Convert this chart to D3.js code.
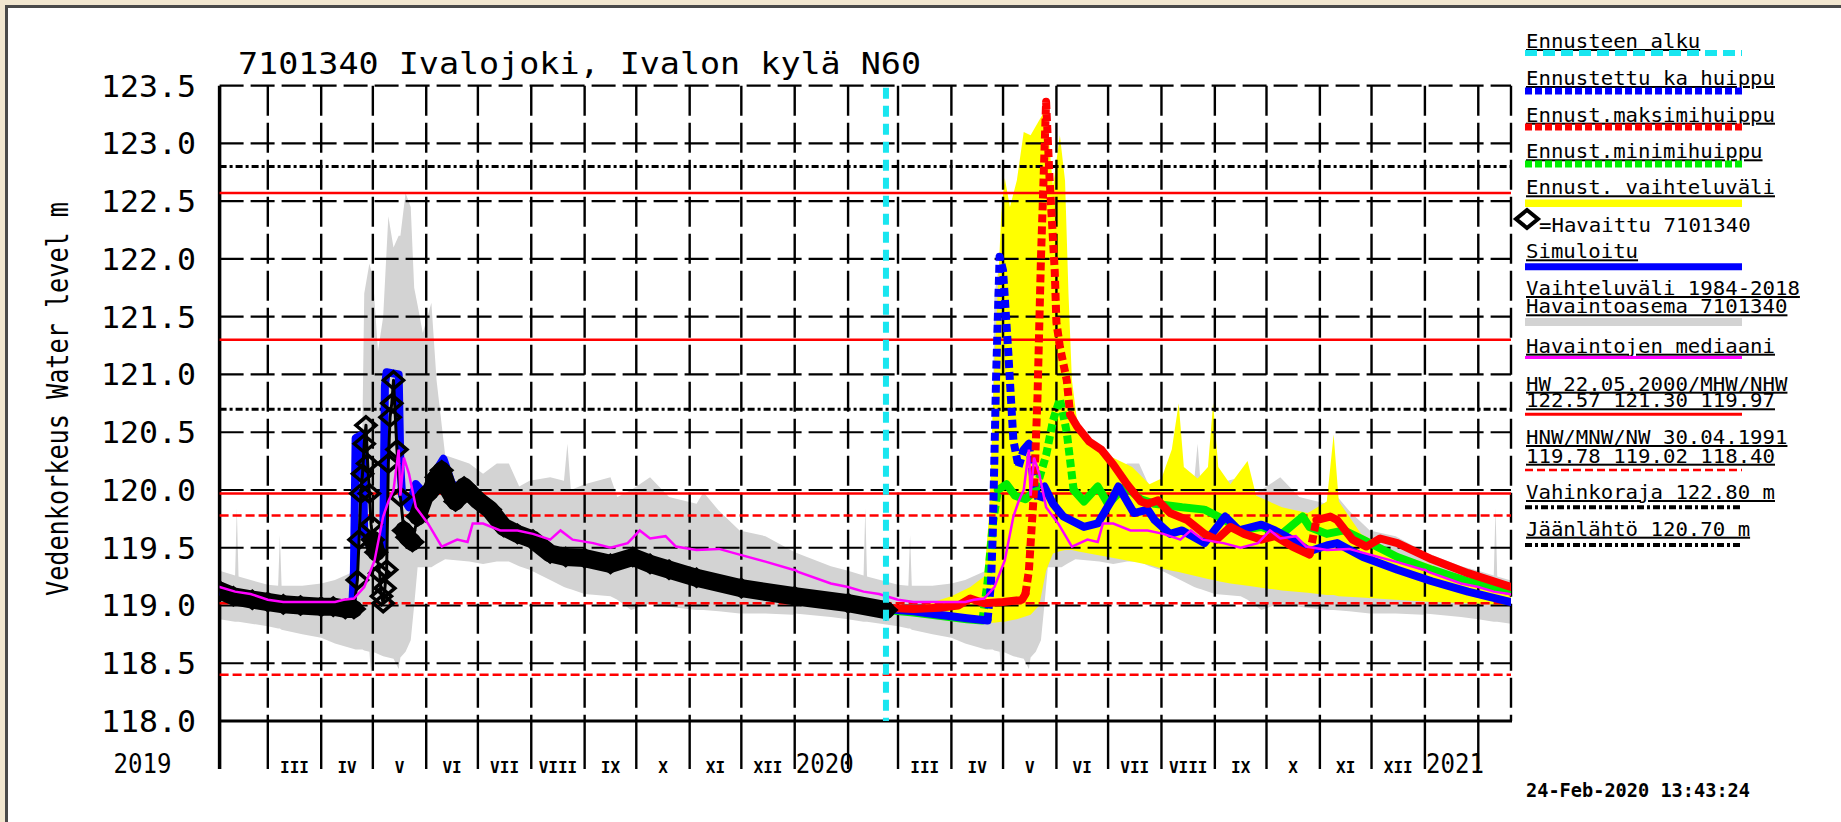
<!DOCTYPE html>
<html>
<head>
<meta charset="utf-8">
<script src="https://cdn.jsdelivr.net/npm/d3@7"></script>
<style>
body { margin: 0; background: #fff; }
svg { display: block; }
text { font-family: "DejaVu Sans Mono", monospace; fill: #000; }
</style>
</head>
<body>
<svg id="chart" width="1841" height="822"></svg>
<script>
"use strict";

// ---------- data ----------
var observed = [
	["2019-02-01",119.13],["2019-02-09",119.08],["2019-02-20",119.05],["2019-03-01",119.03],
	["2019-03-10",119.01],["2019-03-20",119.00],["2019-04-01",118.99],["2019-04-08",118.99],
	["2019-04-15",118.97],["2019-04-20",118.97],["2019-04-22",119.22],["2019-04-23",119.57],
	["2019-04-24",119.97],["2019-04-25",120.14],["2019-04-26",120.40],["2019-04-27",120.56],
	["2019-04-28",120.23],["2019-04-29",119.97],["2019-04-30",119.70],["2019-05-01",119.57],
	["2019-05-03",119.46],["2019-05-05",119.28],["2019-05-06",119.08],["2019-05-07",119.02],
	["2019-05-08",119.15],["2019-05-09",119.31],["2019-05-10",120.23],["2019-05-11",120.63],
	["2019-05-12",120.75],["2019-05-13",120.95],["2019-05-15",120.35],["2019-05-17",119.94],
	["2019-05-19",119.65],["2019-05-21",119.59],["2019-05-24",119.55],["2019-05-27",119.77],
	["2019-05-31",119.94],["2019-06-04",120.00],["2019-06-07",120.11],["2019-06-10",120.17],
	["2019-06-14",120.00],["2019-06-18",119.90],["2019-06-23",120.03],["2019-07-01",119.91],
	["2019-07-08",119.83],["2019-07-16",119.68],["2019-07-24",119.62],["2019-08-02",119.57],
	["2019-08-12",119.45],["2019-08-21",119.42],["2019-09-01",119.41],["2019-09-16",119.36],
	["2019-09-29",119.42],["2019-10-09",119.36],["2019-10-20",119.31],["2019-11-05",119.24],
	["2019-12-01",119.15],["2020-01-01",119.08],["2020-02-01",119.02],["2020-02-23",118.96]
];

var simulated = [
	["2019-02-01",119.12],["2019-03-01",119.03],["2019-04-01",118.99],["2019-04-19",118.98],
	["2019-04-20",119.30],["2019-04-21",120.45],["2019-04-25",120.48],["2019-04-26",119.60],
	["2019-04-30",119.50],["2019-05-07",119.50],["2019-05-08",120.90],["2019-05-09",121.02],
	["2019-05-16",121.00],["2019-05-17",120.20],["2019-05-18",119.95],["2019-05-22",119.85],
	["2019-05-26",120.05],["2019-06-01",119.95],["2019-06-06",120.15],["2019-06-11",120.27],
	["2019-06-16",120.05],["2019-06-25",120.00],["2019-07-01",119.93],["2019-07-16",119.72],
	["2019-08-01",119.60],["2019-08-15",119.47],["2019-09-01",119.43],["2019-09-16",119.39],
	["2019-09-29",119.45],["2019-10-15",119.36],["2019-11-01",119.27],["2019-12-01",119.16],
	["2020-01-01",119.09],["2020-02-01",119.02],["2020-02-23",118.97]
];

// Ennustettu ka huippu
var fcMean = [
	["2020-02-23",118.97],["2020-03-10",118.95],["2020-03-25",118.92],["2020-04-10",118.89],
	["2020-04-22",118.87],["2020-04-24",119.20],["2020-04-25",119.60],["2020-04-27",121.00],
	["2020-04-29",122.02],["2020-05-01",121.90],["2020-05-04",121.20],["2020-05-07",120.43],
	["2020-05-10",120.20],["2020-05-13",120.35],["2020-05-16",120.40],["2020-05-19",120.05],
	["2020-05-22",119.90],["2020-05-25",120.03],["2020-05-30",119.88],["2020-06-05",119.77],
	["2020-06-17",119.68],["2020-06-25",119.71],["2020-07-03",119.91],["2020-07-07",120.03],
	["2020-07-16",119.80],["2020-07-24",119.83],["2020-07-28",119.74],["2020-08-06",119.62],
	["2020-08-13",119.65],["2020-08-26",119.54],["2020-09-07",119.77],["2020-09-15",119.65],
	["2020-09-28",119.70],["2020-10-06",119.65],["2020-10-16",119.57],["2020-10-26",119.47],
	["2020-11-05",119.52],["2020-11-11",119.54],["2020-11-26",119.42],["2020-12-16",119.31],
	["2021-01-05",119.21],["2021-01-26",119.12],["2021-02-20",119.03]
];

// Ennust. maksimihuippu
var fcMax = [
	["2020-02-23",118.98],["2020-03-10",118.97],["2020-03-25",118.98],["2020-04-05",119.00],
	["2020-04-12",119.06],["2020-04-20",119.02],["2020-05-01",119.03],["2020-05-12",119.05],
	["2020-05-14",119.10],["2020-05-16",119.30],["2020-05-19",120.00],["2020-05-21",120.80],
	["2020-05-23",122.00],["2020-05-26",123.36],["2020-05-28",122.70],["2020-05-31",121.90],
	["2020-06-01",121.45],["2020-06-03",121.24],["2020-06-07",120.95],["2020-06-09",120.65],
	["2020-06-13",120.55],["2020-06-20",120.42],["2020-06-27",120.35],["2020-07-04",120.22],
	["2020-07-12",120.05],["2020-07-20",119.90],["2020-07-24",119.88],["2020-07-30",119.91],
	["2020-08-06",119.80],["2020-08-16",119.74],["2020-08-26",119.62],["2020-09-02",119.57],
	["2020-09-10",119.68],["2020-09-18",119.62],["2020-09-28",119.57],["2020-10-06",119.60],
	["2020-10-16",119.51],["2020-10-26",119.44],["2020-10-30",119.74],["2020-11-07",119.77],
	["2020-11-11",119.74],["2020-11-20",119.57],["2020-11-28",119.51],["2020-12-06",119.58],
	["2020-12-16",119.54],["2021-01-05",119.40],["2021-01-26",119.28],["2021-02-20",119.16]
];

// Ennust. minimihuippu
var fcMin = [
	["2020-02-23",118.96],["2020-03-10",118.94],["2020-03-25",118.91],["2020-04-10",118.88],
	["2020-04-19",118.87],["2020-04-22",119.20],["2020-04-25",119.70],["2020-04-28",120.00],
	["2020-05-03",120.05],["2020-05-08",119.95],["2020-05-14",119.92],["2020-05-20",120.00],
	["2020-05-26",120.30],["2020-05-30",120.60],["2020-06-03",120.79],["2020-06-07",120.50],
	["2020-06-11",120.00],["2020-06-17",119.90],["2020-06-25",120.03],["2020-07-01",119.88],
	["2020-07-11",120.03],["2020-07-20",119.92],["2020-07-28",119.88],["2020-08-13",119.85],
	["2020-08-26",119.83],["2020-09-07",119.74],["2020-09-15",119.65],["2020-09-28",119.68],
	["2020-10-10",119.62],["2020-10-22",119.77],["2020-10-26",119.68],["2020-11-05",119.62],
	["2020-11-15",119.65],["2020-11-26",119.57],["2020-12-16",119.42],["2021-01-05",119.31],
	["2021-01-26",119.21],["2021-02-20",119.12]
];

// Ennust. vaihteluväli: [date, low, high]
var fcRange = [
	["2020-02-23",118.96,118.98],["2020-03-15",118.92,119.00],["2020-04-01",118.88,119.08],
	["2020-04-12",118.86,119.16],["2020-04-20",118.85,119.25],["2020-04-23",118.85,119.80],
	["2020-04-26",118.85,121.10],["2020-04-30",118.86,122.40],["2020-05-02",118.86,122.70],
	["2020-05-05",118.87,122.45],["2020-05-09",118.88,122.68],["2020-05-13",118.90,123.10],
	["2020-05-17",118.92,123.07],["2020-05-22",119.00,123.20],["2020-05-26",119.30,123.30],
	["2020-05-30",119.45,122.63],["2020-06-03",119.47,123.07],["2020-06-06",119.48,122.68],
	["2020-06-08",119.48,121.70],["2020-06-10",119.48,120.95],["2020-06-13",119.47,120.60],
	["2020-06-20",119.45,120.45],["2020-07-01",119.42,120.30],["2020-07-15",119.38,120.20],
	["2020-07-25",119.35,120.05],["2020-08-01",119.32,120.10],["2020-08-07",119.30,120.35],
	["2020-08-11",119.29,120.75],["2020-08-14",119.28,120.20],["2020-08-22",119.25,120.10],
	["2020-08-28",119.23,120.20],["2020-08-31",119.22,120.75],["2020-09-03",119.21,120.20],
	["2020-09-10",119.19,120.05],["2020-09-20",119.17,120.25],["2020-09-25",119.16,119.95],
	["2020-10-10",119.13,119.85],["2020-10-25",119.11,119.80],["2020-11-05",119.09,119.90],
	["2020-11-09",119.09,120.48],["2020-11-12",119.08,119.90],["2020-11-25",119.07,119.62],
	["2020-12-15",119.05,119.45],["2021-01-05",119.03,119.35],["2021-01-26",119.02,119.22],
	["2021-02-20",119.00,119.10]
];

// Vaihteluväli 1984-2018 by day of year: [mm-dd, low, high]
var histRange = [
	["01-01",118.93,119.46],["01-22",118.90,119.34],["02-01",118.88,119.30],["02-10",118.86,119.26],
	["02-11",118.86,119.84],["02-12",118.86,119.25],["03-01",118.82,119.18],["03-07",118.80,119.17],
	["03-08",118.80,119.61],["03-09",118.79,119.17],["03-21",118.75,119.17],["04-01",118.72,119.19],
	["04-09",118.67,119.22],["04-21",118.62,119.30],["04-23",118.62,119.36],["04-25",118.62,120.60],
	["04-26",118.61,121.70],["04-29",118.60,121.96],["04-30",118.40,121.90],["05-01",118.60,121.85],
	["05-04",118.58,121.20],["05-07",118.56,121.50],["05-10",118.55,122.37],["05-13",118.54,122.10],
	["05-16",118.45,122.20],["05-17",118.55,122.20],["05-20",118.60,122.57],["05-23",118.70,122.45],
	["05-25",119.00,121.75],["05-27",119.33,121.60],["05-30",119.33,121.36],["06-04",119.33,121.62],
	["06-07",119.36,120.95],["06-12",119.40,120.30],["06-26",119.38,120.23],["07-04",119.36,120.14],
	["07-12",119.38,120.23],["07-19",119.38,120.23],["07-25",119.34,120.03],["07-31",119.31,120.08],
	["08-12",119.22,120.11],["08-20",119.16,120.08],["08-22",119.15,120.40],["08-24",119.14,120.00],
	["09-01",119.10,120.05],["09-16",119.08,120.11],["09-20",119.05,119.94],["09-28",118.96,120.00],
	["10-09",119.02,120.11],["10-20",118.99,119.94],["11-05",118.96,119.88],["11-09",118.96,119.98],
	["11-18",118.95,119.82],["11-30",118.93,119.65],["12-15",118.93,119.60],["12-31",118.92,119.47]
];

// Havaintojen mediaani by day of year
var median = [
	["01-01",119.31],["01-03",119.29],["01-22",119.19],["02-01",119.16],["02-10",119.12],
	["02-19",119.10],["03-01",119.05],["03-10",119.03],["03-30",119.03],["04-09",119.03],
	["04-14",119.05],["04-20",119.06],["04-26",119.16],["05-02",119.39],["05-07",119.77],
	["05-10",119.90],["05-13",120.00],["05-16",120.35],["05-17",119.95],["05-19",120.28],
	["05-22",120.14],["05-26",119.85],["06-02",119.71],["06-10",119.51],["06-19",119.57],
	["06-25",119.55],["06-28",119.71],["07-04",119.71],["07-14",119.65],["07-24",119.65],
	["08-02",119.62],["08-12",119.57],["08-18",119.65],["08-25",119.57],["09-06",119.54],
	["09-16",119.50],["09-26",119.54],["10-03",119.65],["10-09",119.58],["10-18",119.60],
	["10-24",119.51],["11-05",119.48],["11-18",119.49],["11-30",119.44],["12-15",119.38],
	["12-31",119.31]
];

var yTicks = [118.0, 118.5, 119.0, 119.5, 120.0, 120.5, 121.0, 121.5, 122.0, 122.5, 123.0, 123.5];
var monthLabels = ["", "", "III", "IV", "V", "VI", "VII", "VIII", "IX", "X", "XI", "XII"];
var yearLabels = ["2019", "2020", "2021"];
var refSolid = [122.57, 121.30, 119.97];   // HW / MHW / NHW
var refDashed = [119.78, 119.02, 118.40];  // HNW / MNW / NW
var refDashDot = [122.80, 120.70];         // Vahinkoraja, Jäänlähtö
var forecastStart = "2020-02-23";
var startDate = "2019-02-01", endDate = "2021-02-20";

var titleText = "7101340 Ivalojoki, Ivalon kylä N60";
var yTitle = "Vedenkorkeus Water level m";
var stamp = "24-Feb-2020 13:43:24";

// ---------- setup ----------
var parse = d3.timeParse("%Y-%m-%d");
var svg = d3.select("#chart");

var x = d3.scaleTime().domain([parse(startDate), parse(endDate)]).range([219.6, 1511]);
var y = d3.scaleLinear().domain([118, 123.5]).range([721, 85.7]);
var L = x.range()[0], R = x.range()[1], T = y.range()[1], B = y.range()[0];

var BLUE = "#0000ff", RED = "#ff0000", GREEN = "#00ee00", YELLOW = "#ffff00",
    GRAY = "#d3d3d3", MAGENTA = "#ff00ff", CYAN = "#19e6f0";

// window frame
svg.append("rect").attr("width", 1841).attr("height", 822).attr("fill", "#fff");
svg.append("rect").attr("width", 1841).attr("height", 5).attr("fill", "#f2e7d0");
svg.append("rect").attr("width", 5).attr("height", 822).attr("fill", "#f2e7d0");
svg.append("path").attr("d", "M6.5,822V6.5H1841")
   .attr("fill", "none").attr("stroke", "#4a4a4a").attr("stroke-width", 3);

svg.append("defs").append("clipPath").attr("id", "plot")
   .append("rect").attr("x", L).attr("y", T).attr("width", R - L).attr("height", B - T);

function expand(rows, years) {
	var out = [];
	years.forEach(function(yr) {
		rows.forEach(function(r) { out.push([parse(yr + "-" + r[0])].concat(r.slice(1))); });
	});
	return out;
}
function dated(rows) { return rows.map(function(r) { return [parse(r[0])].concat(r.slice(1)); }); }

var area = d3.area().x(d => x(d[0])).y0(d => y(d[1])).y1(d => y(d[2]));
var line = d3.line().x(d => x(d[0])).y(d => y(d[1]));

var bands = svg.append("g").attr("clip-path", "url(#plot)");
bands.append("path").datum(expand(histRange, [2019, 2020, 2021])).attr("fill", GRAY).attr("d", area);
bands.append("path").datum(dated(fcRange)).attr("fill", YELLOW).attr("d", area);

// ---------- grid ----------
var grid = svg.append("g").attr("fill", "none").attr("stroke", "#000");
yTicks.forEach(function(v) {
	if (v === y.domain()[0]) return;
	grid.append("line").attr("x1", L).attr("x2", R).attr("y1", y(v)).attr("y2", y(v))
	    .attr("stroke-width", 2.2).attr("stroke-dasharray", "24,7");
});
var months = d3.timeMonth.range(x.domain()[0], x.domain()[1]);
months.forEach(function(m, i) {
	var px = x(m);
	if (i > 0) {
		grid.append("line").attr("x1", px).attr("x2", px).attr("y1", T).attr("y2", B)
		    .attr("stroke-width", 2.4).attr("stroke-dasharray", "30,7");
	}
	grid.append("line").attr("x1", px).attr("x2", px).attr("y1", B).attr("y2", B + 48)
	    .attr("stroke-width", i > 0 ? 2.4 : 3.5);
});
grid.append("line").attr("x1", R).attr("x2", R).attr("y1", T).attr("y2", B)
    .attr("stroke-width", 2.4).attr("stroke-dasharray", "30,7");
grid.append("line").attr("x1", L).attr("x2", L).attr("y1", T).attr("y2", B).attr("stroke-width", 3.5);
grid.append("line").attr("x1", L - 1.5).attr("x2", R + 1).attr("y1", B).attr("y2", B).attr("stroke-width", 3);

// reference levels
var refs = svg.append("g").attr("fill", "none");
refSolid.forEach(function(v) {
	refs.append("line").attr("x1", L).attr("x2", R).attr("y1", y(v)).attr("y2", y(v))
	    .attr("stroke", RED).attr("stroke-width", 2.5);
});
refDashed.forEach(function(v) {
	refs.append("line").attr("x1", L).attr("x2", R).attr("y1", y(v)).attr("y2", y(v))
	    .attr("stroke", RED).attr("stroke-width", 2.5).attr("stroke-dasharray", "9,4");
});
refDashDot.forEach(function(v) {
	refs.append("line").attr("x1", L).attr("x2", R).attr("y1", y(v)).attr("y2", y(v))
	    .attr("stroke", "#000").attr("stroke-width", 3).attr("stroke-dasharray", "7,3,3,3");
});

// ---------- series ----------
var series = svg.append("g").attr("clip-path", "url(#plot)").attr("fill", "none");

series.append("path").datum(dated(simulated)).attr("d", line)
      .attr("stroke", BLUE).attr("stroke-width", 8).attr("stroke-linejoin", "round");

// split a series into runs of steep / gentle segments (in pixels)
function runs(rows, ratio) {
	var pts = rows.map(r => [x(parse(r[0])), y(r[1])]);
	var out = [], cur = null;
	for (var i = 1; i < pts.length; i++) {
		var dx = pts[i][0] - pts[i-1][0], dy = pts[i][1] - pts[i-1][1];
		var steep = Math.abs(dy) > ratio * Math.abs(dx);
		if (!cur || cur.steep !== steep) {
			cur = {steep: steep, pts: [pts[i-1]]};
			out.push(cur);
		}
		cur.pts.push(pts[i]);
	}
	return out;
}

// forecast lines: daily markers look dotted on steep parts, solid elsewhere
function drawForecast(rows, color) {
	runs(rows, 2.5).forEach(function(run) {
		series.append("path").attr("d", d3.line()(run.pts))
		      .attr("stroke", color).attr("stroke-width", 8)
		      .attr("stroke-linejoin", "round")
		      .attr("stroke-linecap", run.steep ? "butt" : "round")
		      .attr("stroke-dasharray", run.steep ? "8,4" : null);
	});
}
drawForecast(fcMin, GREEN);
drawForecast(fcMean, BLUE);
drawForecast(fcMax, RED);

// observed: dense diamonds form a thick black band; on steep parts they stand apart
var obs = dated(observed);
runs(observed, 4).forEach(function(run) {
	series.append("path").attr("d", d3.line()(run.pts))
	      .attr("stroke", "#000").attr("stroke-width", run.steep ? 3 : 18)
	      .attr("stroke-linejoin", "round").attr("stroke-linecap", "round");
});
series.selectAll(".dia").data(obs).enter().append("path")
      .attr("class", "dia")
      .attr("d", "M0,-8.5L10,0L0,8.5L-10,0Z")
      .attr("transform", d => "translate(" + x(d[0]) + "," + y(d[1]) + ")")
      .attr("stroke", "#000").attr("stroke-width", 3.5);

series.append("path").datum(expand(median, [2019, 2020, 2021])).attr("d", line)
      .attr("stroke", MAGENTA).attr("stroke-width", 2.5);

var fx = x(parse(forecastStart));
svg.append("line").attr("x1", fx).attr("x2", fx).attr("y1", T + 2).attr("y2", B)
   .attr("stroke", CYAN).attr("stroke-width", 6).attr("stroke-dasharray", "11,7");

// ---------- texts ----------
svg.append("text").attr("x", 238).attr("y", 74).attr("font-size", 31)
   .attr("textLength", 683).attr("lengthAdjust", "spacingAndGlyphs").text(titleText);

yTicks.forEach(function(v) {
	svg.append("text").attr("x", 196).attr("y", y(v) + 11).attr("text-anchor", "end")
	   .attr("font-size", 31).attr("textLength", 95).attr("lengthAdjust", "spacingAndGlyphs")
	   .text(v.toFixed(1));
});

svg.append("text").attr("transform", "translate(68,399) rotate(-90)").attr("text-anchor", "middle")
   .attr("font-size", 31).attr("textLength", 394).attr("lengthAdjust", "spacingAndGlyphs")
   .text(yTitle);

months.forEach(function(m) {
	var mi = m.getMonth();
	var nx = Math.min(x(d3.timeMonth.offset(m, 1)), R);
	if (mi === 0) return;
	if (!monthLabels[mi]) return;
	svg.append("text").attr("x", (x(m) + nx) / 2).attr("y", 773).attr("text-anchor", "middle")
	   .attr("font-size", 16).attr("font-weight", "bold").text(monthLabels[mi]);
});
yearLabels.forEach(function(lab) {
	var jan = new Date(+lab, 0, 1);
	var t = svg.append("text").attr("y", 773).attr("font-size", 27)
	   .attr("textLength", 58).attr("lengthAdjust", "spacingAndGlyphs").text(lab);
	if (jan < x.domain()[0]) t.attr("x", L - 48).attr("text-anchor", "end");
	else t.attr("x", x(jan) + 1);
});

svg.append("text").attr("x", 1526).attr("y", 797).attr("font-size", 20).attr("font-weight", "bold")
   .attr("textLength", 224).attr("lengthAdjust", "spacingAndGlyphs").text(stamp);

// ---------- legend ----------
var lg = svg.append("g");
var LX0 = 1525, LX1 = 1742;
function ltext(str, yy, xx, under) {
	lg.append("text").attr("x", xx || 1526).attr("y", yy).attr("font-size", 20)
	  .attr("textLength", str.length * 12.45).attr("lengthAdjust", "spacingAndGlyphs")
	  .style("text-decoration", under === false ? "none" : "underline")
	  .text(str);
}
function lline(yy, color, w, dash) {
	lg.append("line").attr("x1", LX0).attr("x2", LX1).attr("y1", yy).attr("y2", yy)
	  .attr("stroke", color).attr("stroke-width", w).attr("stroke-dasharray", dash || null);
}
ltext("Ennusteen alku", 48);            lline(53, CYAN, 6, "12,6");
ltext("Ennustettu ka huippu", 85);      lline(91, BLUE, 7, "7,3");
ltext("Ennust.maksimihuippu", 121.7);   lline(127, RED, 7, "7,3");
ltext("Ennust.minimihuippu", 158.3);    lline(164, GREEN, 7, "7,3");
ltext("Ennust. vaihteluväli", 194.3);
lg.append("rect").attr("x", LX0).attr("y", 199.5).attr("width", LX1 - LX0).attr("height", 7.5).attr("fill", YELLOW);
lg.append("path").attr("d", "M1527,210L1538,219L1527,228L1516,219Z")
  .attr("fill", "#fff").attr("stroke", "#000").attr("stroke-width", 4);
ltext("=Havaittu 7101340", 231.7, 1539, false);
ltext("Simuloitu", 258.3);              lline(266.7, BLUE, 7);
ltext("Vaihteluväli 1984-2018", 295);
ltext("Havaintoasema 7101340", 313.3);
lg.append("rect").attr("x", LX0).attr("y", 318).attr("width", LX1 - LX0).attr("height", 8).attr("fill", GRAY);
ltext("Havaintojen mediaani", 352.7);   lline(357.5, MAGENTA, 3);
ltext("HW 22.05.2000/MHW/NHW", 390.7);
ltext("122.57 121.30 119.97", 407.3);   lline(414.3, RED, 3);
ltext("HNW/MNW/NW 30.04.1991", 444);
ltext("119.78 119.02 118.40", 462.7);   lline(470, RED, 2.5, "8,4");
ltext("Vahinkoraja 122.80 m", 499);     lline(507.3, "#000", 4, "7,3,3,3");
ltext("Jäänlähtö 120.70 m", 535.7);     lline(545, "#000", 4, "7,3,3,3");
</script>
</body>
</html>
